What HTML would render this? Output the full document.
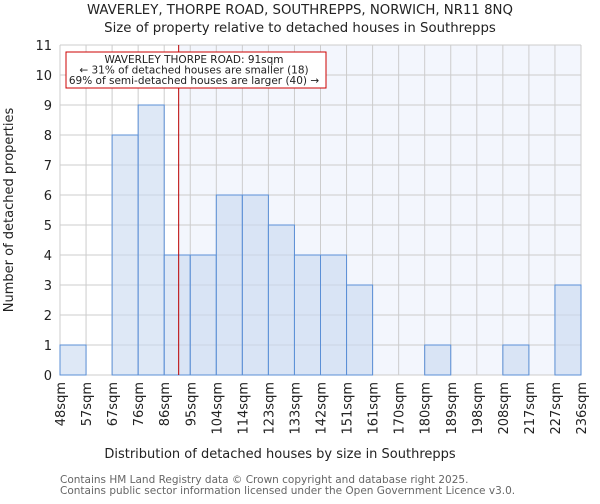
<!DOCTYPE html>
<html><head><meta charset="utf-8"><style>
body{margin:0;background:#fff;font-family:"DejaVu Sans","Liberation Sans",sans-serif}
</style></head><body>
<svg id="c" width="600" height="500" xmlns="http://www.w3.org/2000/svg" font-family="DejaVu Sans, Liberation Sans, sans-serif">
<text x="300" y="14" text-anchor="middle" font-size="13.3" fill="#222">WAVERLEY, THORPE ROAD, SOUTHREPPS, NORWICH, NR11 8NQ</text>
<text x="300" y="32" text-anchor="middle" font-size="13.3" fill="#222">Size of property relative to detached houses in Southrepps</text>
<g id="grid"></g><g id="bars"></g><g id="axes"></g>
<text x="280" y="458" text-anchor="middle" font-size="13" fill="#222">Distribution of detached houses by size in Southrepps</text>
<text transform="translate(13,210) rotate(-90)" text-anchor="middle" font-size="13" fill="#222">Number of detached properties</text>
<text x="60" y="483" font-size="10.5" fill="#666">Contains HM Land Registry data © Crown copyright and database right 2025.</text>
<text x="60" y="494" font-size="10.5" fill="#666">Contains public sector information licensed under the Open Government Licence v3.0.</text>
</svg>
<script>
const categories=["48sqm","57sqm","67sqm","76sqm","86sqm","95sqm","104sqm","114sqm","123sqm","133sqm","142sqm","151sqm","161sqm","170sqm","180sqm","189sqm","198sqm","208sqm","217sqm","227sqm","236sqm"];
const counts=[1,0,8,9,4,4,6,6,5,4,4,3,0,0,1,0,0,1,0,3];
const yTicks=[0,1,2,3,4,5,6,7,8,9,10,11];
const marker=91;
const binStarts=[48,57,67,76,86,95,104,114,123,133,142,151,161,170,180,189,198,208,217,227,236];
const X0=60,X1=581,Y0=375,Y1=45,ymax=11;
const bw=(X1-X0)/counts.length;
const xs=i=>X0+i*bw, ys=v=>Y0-(Y0-Y1)*v/ymax;
const NS="http://www.w3.org/2000/svg";
function mk(t,a,p){const e=document.createElementNS(NS,t);for(const k in a)e.setAttribute(k,a[k]);p.appendChild(e);return e;}
const grid=document.getElementById('grid'),bars=document.getElementById('bars'),axes=document.getElementById('axes');
let mi=0;for(let i=0;i<binStarts.length-1;i++)if(marker>=binStarts[i]&&marker<binStarts[i+1])mi=i;
const mx=xs(mi)+bw*(marker-binStarts[mi])/(binStarts[mi+1]-binStarts[mi]);
const hl=mk('rect',{x:mx,y:Y1,width:X1-mx,height:Y0-Y1,fill:'#f3f6fd'},grid);


for(let i=0;i<=counts.length;i++){const l=mk('line',{x1:xs(i),x2:xs(i),y1:Y1,y2:Y0,stroke:'#ccc','stroke-width':1},grid);

}
yTicks.forEach(v=>{const l=mk('line',{x1:X0,x2:X1,y1:ys(v),y2:ys(v),stroke:'#ccc','stroke-width':1},grid);


const t=mk('text',{x:X0-8,y:ys(v)+5,'text-anchor':'end','font-size':13,fill:'#222'},axes);t.textContent=v;

});
counts.forEach((v,i)=>{if(v<=0)return;const r=mk('rect',{x:xs(i),y:ys(v),width:bw,height:Y0-ys(v),fill:'rgba(200,216,240,0.6)',stroke:'#5b8fd6','stroke-width':1},bars);

});
categories.forEach((c,i)=>{const x=xs(i);const t=mk('text',{transform:`translate(${x+5},382) rotate(-90)`,'text-anchor':'end','font-size':13,fill:'#222'},axes);t.textContent=c;

});
const ml=mk('line',{x1:mx,x2:mx,y1:Y1,y2:Y0,stroke:'#b00','stroke-width':1},axes);


const g=mk('g',{},axes);


mk('rect',{x:66,y:52,width:260,height:36,fill:'#fff',stroke:'#c00','stroke-width':1},g);
["WAVERLEY THORPE ROAD: 91sqm","← 31% of detached houses are smaller (18)","69% of semi-detached houses are larger (40) →"].forEach((s,i)=>{const t=mk('text',{x:194,y:63+i*10.5,'text-anchor':'middle','font-size':10.5,fill:'#222'},g);t.textContent=s;

});
</script>
</body></html>
